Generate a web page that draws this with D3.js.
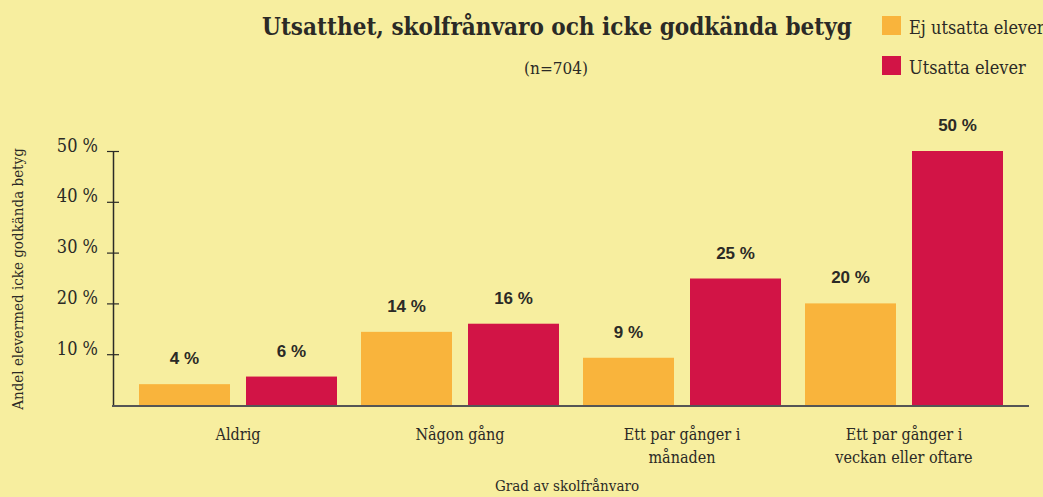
<!DOCTYPE html>
<html>
<head>
<meta charset="utf-8">
<script src="https://cdn.jsdelivr.net/npm/d3@7"></script>
<style>
  body { margin: 0; background: #f7ee9f; }
  svg { display: block; }
  text { fill: #2b2a26; }
</style>
</head>
<body>
<svg id="chart" width="1043" height="497"></svg>
<script>
// data
const categories = [['Aldrig'], ['Någon gång'], ['Ett par gånger i', 'månaden'], ['Ett par gånger i', 'veckan eller oftare']]
const series = ['Ej utsatta elever', 'Utsatta elever']
const ejUtsatta = [4.1, 14.4, 9.3, 20]
const utsatta = [5.6, 16, 24.9, 50]
const ejLabels = ['4 %', '14 %', '9 %', '20 %']
const utsattaLabels = ['6 %', '16 %', '25 %', '50 %']
const yTicks = [10, 20, 30, 40, 50]
const colors = ['#f9b43c', '#d21446']

const svg = d3.select('#chart')
const width = 1043
const serif = "'DejaVu Serif Condensed', 'DejaVu Serif', serif"
const sans = "'Liberation Sans', Arial, sans-serif"

svg.append('rect').attr('width', width).attr('height', 497).attr('fill', '#f7ee9f')

const keys = categories.map((c, i) => i)
const x0 = d3.scaleBand().domain(keys).range([127, 1015]).padding(0)
const x1 = d3.scaleBand().domain([0, 1]).range([12, 210]).paddingInner(16 / 107).paddingOuter(0)
const y = d3.scaleLinear().domain([0, 50]).range([405, 151])

const rows = keys.map(i => [
    {s: 0, v: ejUtsatta[i], label: ejLabels[i]},
    {s: 1, v: utsatta[i], label: utsattaLabels[i]}
])

const groups = svg.selectAll('.group').data(rows).enter().append('g')
    .attr('class', 'group')
    .attr('transform', (d, i) => `translate(${x0(i)},0)`)

groups.selectAll('rect').data(d => d).enter().append('rect')
    .attr('x', d => x1(d.s))
    .attr('width', x1.bandwidth())
    .attr('y', d => y(d.v))
    .attr('height', d => y(0) - y(d.v) + 1)
    .attr('fill', d => colors[d.s])

groups.selectAll('.val').data(d => d).enter().append('text')
    .attr('class', 'val')
    .attr('x', d => x1(d.s) + x1.bandwidth() / 2)
    .attr('y', d => y(d.v) - 20)
    .attr('text-anchor', 'middle')
    .attr('font-family', sans).attr('font-weight', 'bold').attr('font-size', 17)
    .text(d => d.label)

// y axis
const yAxis = svg.append('g').attr('transform', 'translate(113,0)')
    .call(d3.axisLeft(y).tickValues(yTicks).tickFormat(d => d + ' %').tickSizeOuter(0))
yAxis.select('.domain').attr('stroke', '#2b2a26').attr('stroke-width', 1.5)
yAxis.selectAll('.tick line').attr('x1', -6).attr('x2', 6).attr('stroke', '#2b2a26').attr('stroke-width', 1.2)
yAxis.selectAll('.tick text')
    .attr('x', -15).attr('dy', 0)
    .attr('font-family', serif).attr('font-size', 18).attr('fill', '#2b2a26')

// baseline
svg.append('line')
    .attr('x1', 112).attr('x2', 1029)
    .attr('y1', y(0) + 1).attr('y2', y(0) + 1)
    .attr('stroke', '#555').attr('stroke-width', 2)

// category labels
const catText = svg.selectAll('.cat').data(categories).enter().append('text')
    .attr('class', 'cat')
    .attr('x', (d, i) => x0(i) + x0.bandwidth() / 2)
    .attr('y', 440)
    .attr('text-anchor', 'middle')
    .attr('font-family', serif).attr('font-size', 16)
catText.selectAll('tspan').data(d => d).enter().append('tspan')
    .attr('x', function () { return this.parentNode.getAttribute('x') })
    .attr('dy', (d, i) => i ? 23 : 0)
    .text(d => d)

// axis titles
svg.append('text')
    .attr('x', 567).attr('y', 491)
    .attr('text-anchor', 'middle')
    .attr('font-family', serif).attr('font-size', 15)
    .text('Grad av skolfrånvaro')

svg.append('text')
    .attr('transform', 'translate(23,279) rotate(-90)')
    .attr('text-anchor', 'middle')
    .attr('font-family', serif).attr('font-size', 15)
    .text('Andel elevermed icke godkända betyg')

// title
svg.append('text')
    .attr('x', 557).attr('y', 35)
    .attr('text-anchor', 'middle')
    .attr('font-family', serif).attr('font-weight', 'bold').attr('font-size', 24)
    .text('Utsatthet, skolfrånvaro och icke godkända betyg')

svg.append('text')
    .attr('x', 556).attr('y', 74)
    .attr('text-anchor', 'middle')
    .attr('font-family', serif).attr('font-size', 17)
    .text('(n=704)')

// legend
const legend = svg.selectAll('.leg').data(series).enter().append('g')
    .attr('class', 'leg')
    .attr('transform', (d, i) => `translate(882,${16 + i * 40})`)
legend.append('rect').attr('width', 19).attr('height', 19).attr('fill', (d, i) => colors[i])
legend.append('text')
    .attr('x', 27).attr('y', 18)
    .attr('font-family', serif).attr('font-size', 18)
    .text(d => d)
</script>
</body>
</html>
